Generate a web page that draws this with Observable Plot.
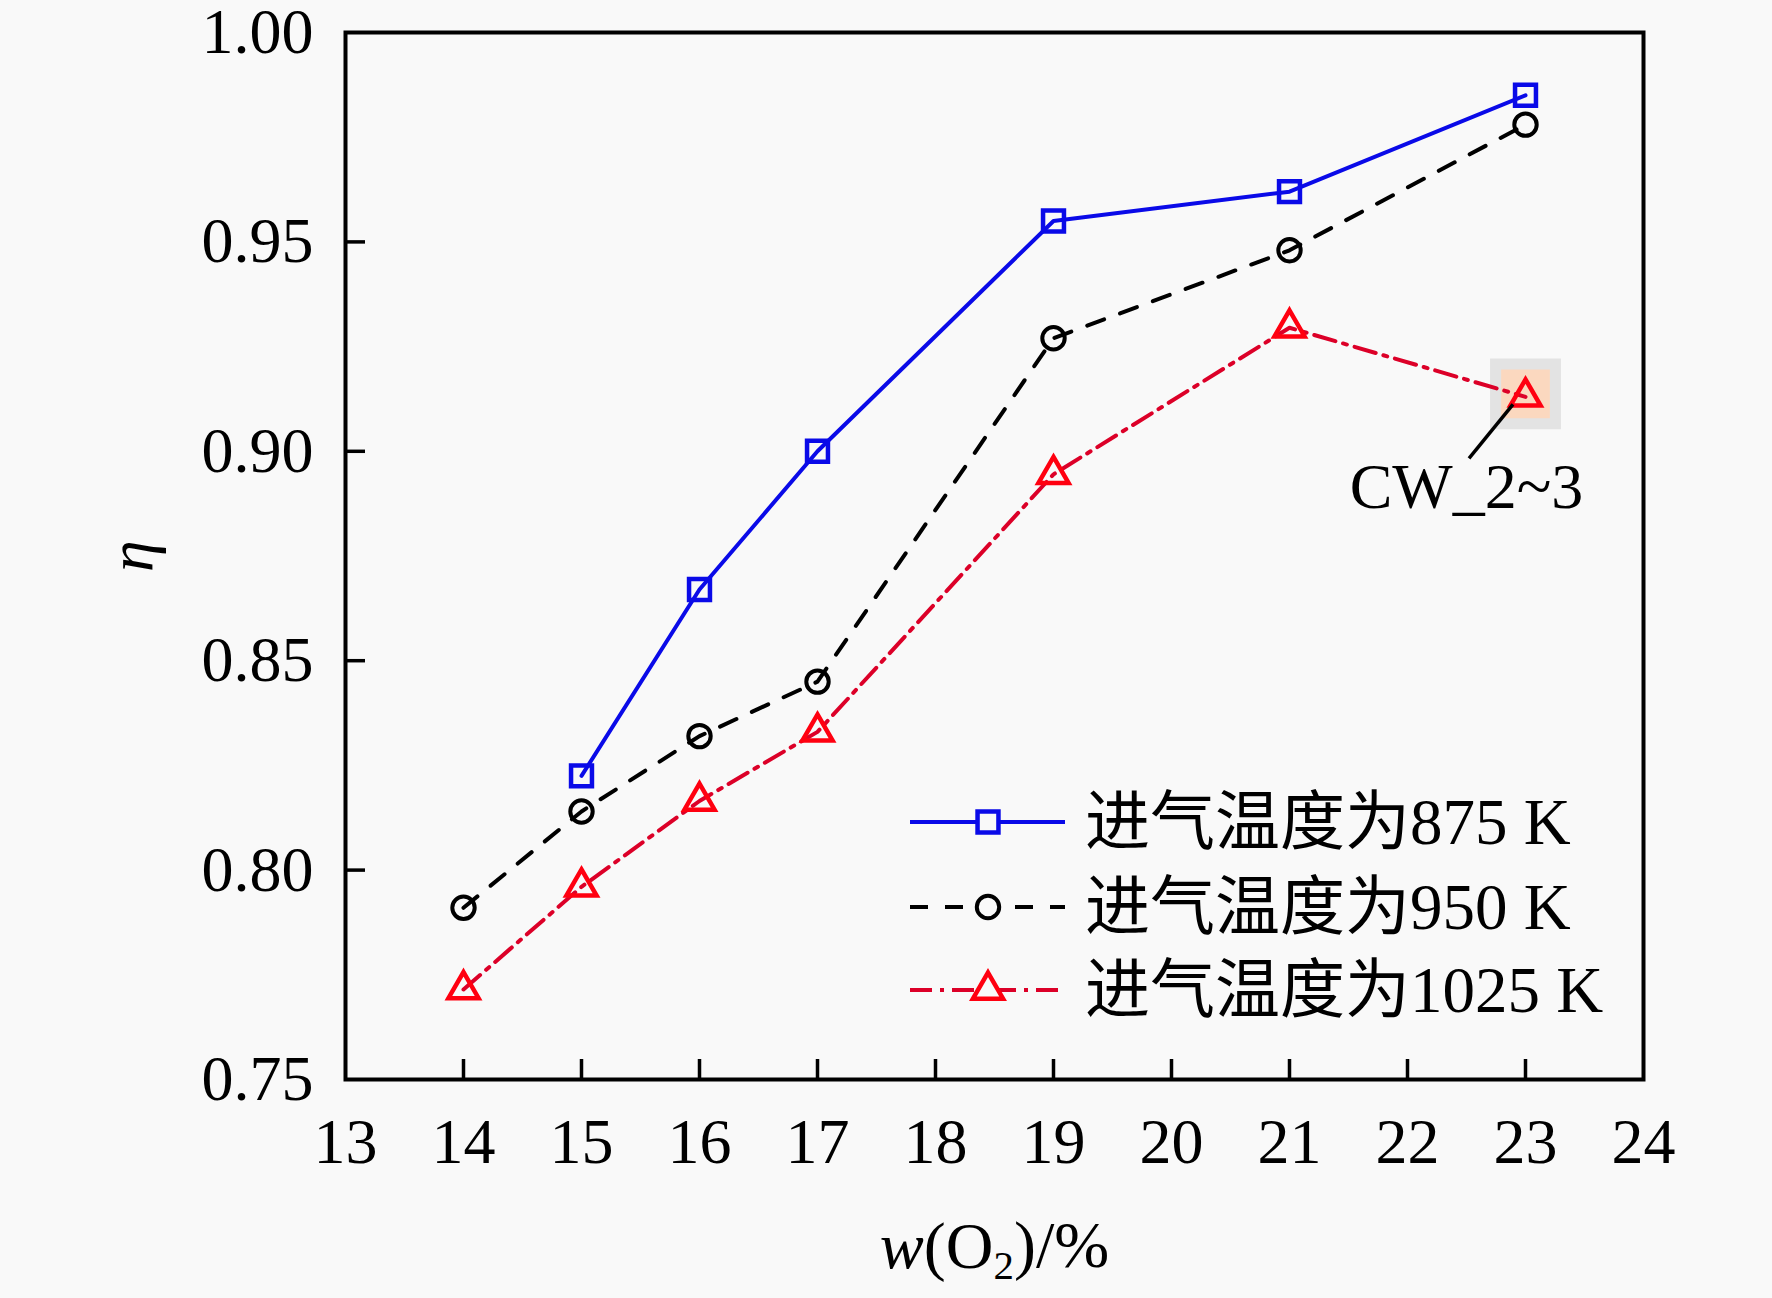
<!DOCTYPE html>
<html><head><meta charset="utf-8">
<script src="https://cdn.jsdelivr.net/npm/d3@7"></script>
<script src="https://cdn.jsdelivr.net/npm/@observablehq/plot@0.6"></script>
<style>html,body{margin:0;padding:0;background:#f9f9f9;} svg{display:block}</style>
</head><body><div id="chart"></div>
<script>
// ---- data ----
const xs875 = [15, 16, 17, 19, 21, 23];
const eta875 = [0.8225, 0.867, 0.900, 0.955, 0.962, 0.985];
const xs950 = [14, 15, 16, 17, 19, 21, 23];
const eta950 = [0.791, 0.814, 0.832, 0.845, 0.927, 0.948, 0.978];
const xs1025 = [14, 15, 16, 17, 19, 21, 23];
const eta1025 = [0.7715, 0.796, 0.8165, 0.833, 0.8945, 0.9295, 0.913];
const seriesNames = ["进气温度为875 K", "进气温度为950 K", "进气温度为1025 K"];
const xTicks = [13, 14, 15, 16, 17, 18, 19, 20, 21, 22, 23, 24];
const yTicks = [0.75, 0.80, 0.85, 0.90, 0.95, 1.00];
const innerXTicks = [14, 15, 16, 17, 18, 19, 20, 21, 22, 23];
const innerYTicks = [0.80, 0.85, 0.90, 0.95];
const annotX = [23];
const annotY = [0.913];
const annotLabel = ["CW_2~3"];
const xLabel = "w(O2)/%";
const yLabel = "η";

// ---- layout ----
const W = 1772, H = 1298, mL = 345, mR = 129, mT = 32, mB = 219;
const FONT = "'Liberation Serif','Times New Roman','Noto Sans CJK SC',serif";
const C_BLUE = "#0a0ae8", C_BLACK = "#000000", C_RED_LINE = "#dc0028", C_RED = "#ff0010";

const rows = (xs, ys, s) => xs.map((x, i) => ({x, y: ys[i], s}));
const d875 = rows(xs875, eta875, seriesNames[0]);
const d950 = rows(xs950, eta950, seriesNames[1]);
const d1025 = rows(xs1025, eta1025, seriesNames[2]);
const annot = annotX.map((x, i) => ({x, y: annotY[i], label: annotLabel[i]}));

const LW = 4;
const styles = [
  {stroke: C_BLUE, dash: null, symbol: "square", r: 11.8, mstroke: C_BLUE, mw: 4.5},
  {stroke: C_BLACK, dash: "18,17", symbol: "circle", r: 11.2, mstroke: C_BLACK, mw: 4},
  {stroke: C_RED_LINE, dash: "22,8,4,8", symbol: "triangle", r: 11.2, mstroke: C_RED, mw: 4.5}
];

const plot = Plot.plot({
  width: W, height: H,
  marginLeft: mL, marginRight: mR, marginTop: mT, marginBottom: mB,
  style: {fontFamily: FONT, fontSize: "64px", background: "#f9f9f9", color: "black", overflow: "visible"},
  x: {domain: [13, 24]},
  y: {domain: [0.75, 1.0]},
  marks: [
    Plot.dot(annot, {x: "x", y: "y", symbol: "square", r: 40, fill: "#e3e3e3", stroke: "none", dy: -3}),
    Plot.dot(annot, {x: "x", y: "y", symbol: "square", r: 27.5, fill: "#fbd8bf", stroke: "none", dy: -3}),
    Plot.line(d950, {x: "x", y: "y", stroke: styles[1].stroke, strokeWidth: LW, strokeDasharray: styles[1].dash}),
    Plot.line(d1025, {x: "x", y: "y", stroke: styles[2].stroke, strokeWidth: LW, strokeDasharray: styles[2].dash}),
    Plot.line(d875, {x: "x", y: "y", stroke: styles[0].stroke, strokeWidth: LW}),
    Plot.dot(d950, {x: "x", y: "y", symbol: "circle", r: styles[1].r, stroke: styles[1].mstroke, strokeWidth: styles[1].mw, fill: "none"}),
    Plot.dot(d1025, {x: "x", y: "y", symbol: "triangle", r: styles[2].r, stroke: styles[2].mstroke, strokeWidth: styles[2].mw, fill: "none"}),
    Plot.dot(d875, {x: "x", y: "y", symbol: "square", r: styles[0].r, stroke: styles[0].mstroke, strokeWidth: styles[0].mw, fill: "none"}),
    Plot.tickX(innerXTicks, {x: d => d, stroke: "black", strokeWidth: 3.5, insetTop: H - mT - mB - 20}),
    Plot.tickY(innerYTicks, {y: d => d, stroke: "black", strokeWidth: 3.5, insetRight: W - mL - mR - 20}),
    Plot.frame({stroke: "black", strokeWidth: 4}),
    Plot.axisX({ticks: xTicks, tickSize: 0, tickPadding: 38, fontSize: 64, label: null, tickFormat: d => String(d)}),
    Plot.axisY({ticks: yTicks, tickSize: 0, tickPadding: 32, fontSize: 64, label: null, tickFormat: d => d.toFixed(2)}),
    Plot.text([yLabel], {text: d => d, frameAnchor: "left", dx: -214, dy: 16, rotate: -90, fontStyle: "italic", fontSize: 64}),
    Plot.text([xLabel], {text: d => d, frameAnchor: "bottom", dy: 188, fontSize: 66}),
    Plot.text(annot, {x: "x", y: "y", text: "label", dx: -59, dy: 91, fontSize: 64})
  ]
});

document.getElementById("chart").appendChild(plot);
const svg = d3.select(plot);

// x-axis label with italic w and subscript 2
svg.selectAll("text").filter(function () { return this.textContent === xLabel; }).each(function () {
  const t = d3.select(this);
  t.text(null);
  t.append("tspan").attr("font-style", "italic").text("w");
  t.append("tspan").text("(O");
  t.append("tspan").attr("font-size", "0.62em").attr("dy", "0.28em").text("2");
  t.append("tspan").attr("dy", "-0.18em").text(")/%");
});

// leader line for annotation
const sx = plot.scale("x"), sy = plot.scale("y");
annot.forEach(a => {
  const px = sx.apply(a.x), py = sy.apply(a.y);
  svg.append("line")
    .attr("x1", px - 12).attr("y1", py + 8)
    .attr("x2", px - 56).attr("y2", py + 62)
    .attr("stroke", "black").attr("stroke-width", 3.5);
});

// legend
const symMap = {square: d3.symbolSquare, circle: d3.symbolCircle, triangle: d3.symbolTriangle};
const legendRowsY = [822, 907, 990];
const lg = svg.append("g").attr("font-family", FONT).attr("font-size", 65).attr("text-anchor", "start");
seriesNames.forEach((name, i) => {
  const s = styles[i], y = legendRowsY[i];
  lg.append("line").attr("x1", 910).attr("x2", 1065).attr("y1", y).attr("y2", y)
    .attr("stroke", s.stroke).attr("stroke-width", LW)
    .attr("stroke-dasharray", s.dash);
  lg.append("path").attr("transform", `translate(988,${y})`)
    .attr("d", d3.symbol(symMap[s.symbol], s.r * s.r * Math.PI)())
    .attr("fill", "#f9f9f9").attr("stroke", s.mstroke).attr("stroke-width", s.mw);
  lg.append("text").attr("x", 1085).attr("y", y).attr("dy", "0.34em")
    .attr("text-anchor", "start").attr("fill", "black").text(name);
});
</script>
</body></html>
